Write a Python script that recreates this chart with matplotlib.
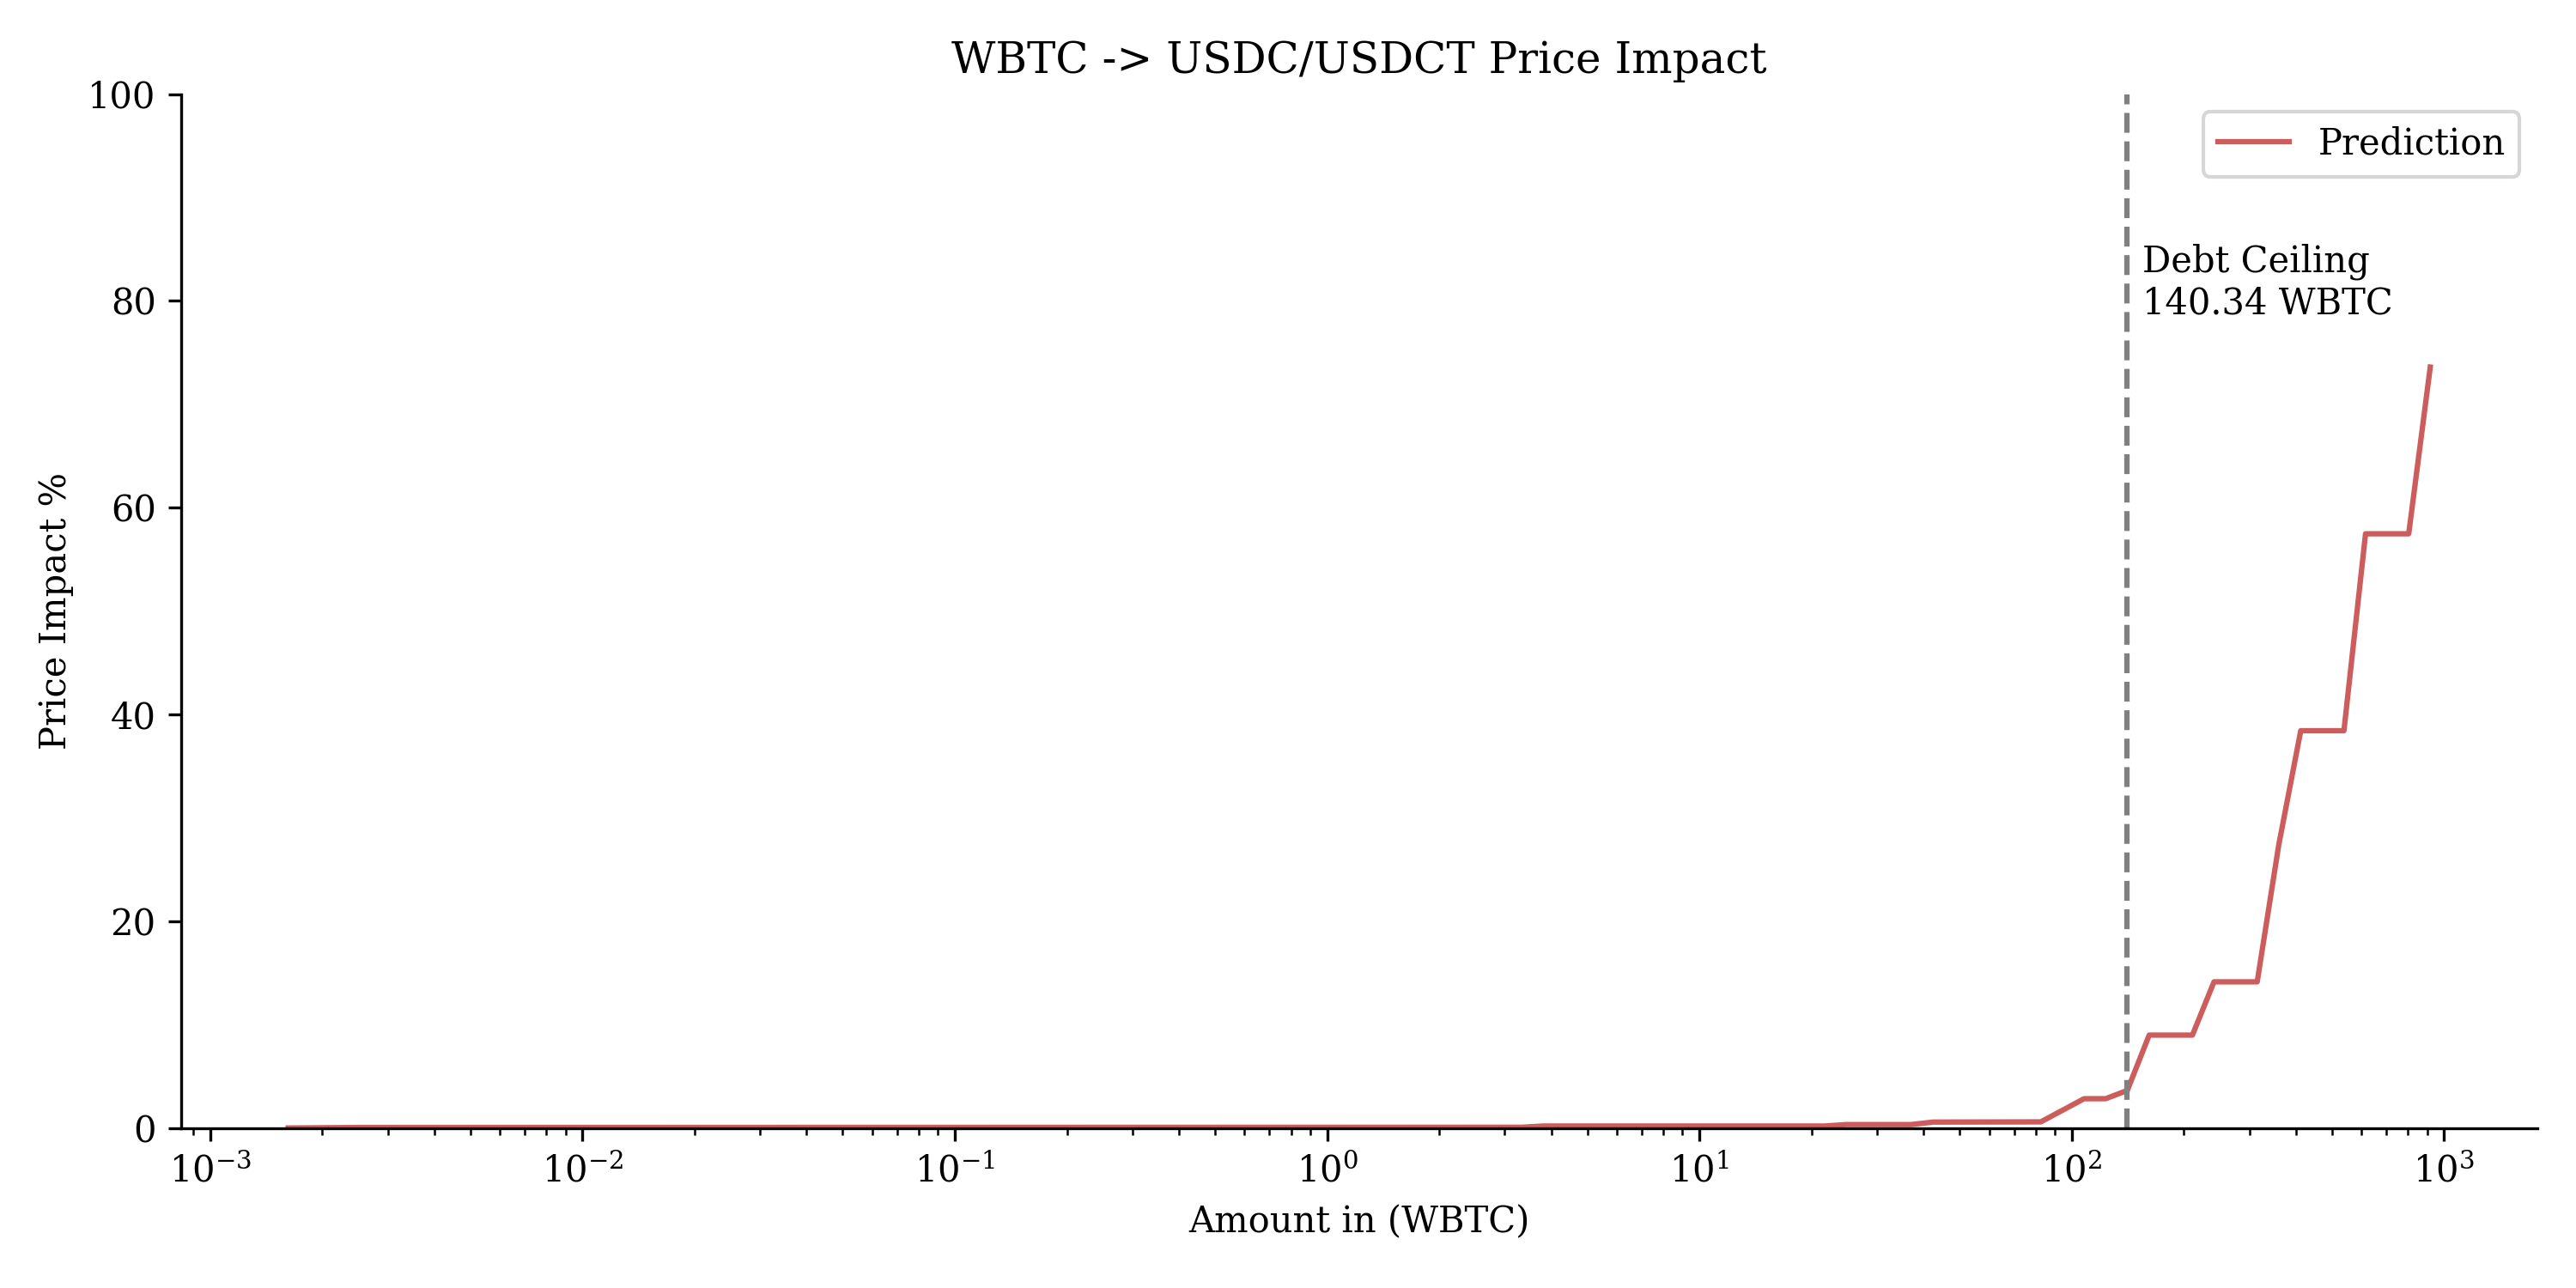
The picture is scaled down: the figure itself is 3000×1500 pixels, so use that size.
import matplotlib
matplotlib.use("Agg")
import matplotlib.pyplot as plt

# amount in (WBTC) at the bends of the prediction curve
amount_in = [0.00162, 0.0025, 3.33, 3.81, 21.7, 24.8, 37.0, 42.4, 82.6,
             107.9, 123.3, 141.0, 161.4, 210.9, 241.0, 314.8, 359.7,
             412.1, 538.3, 615.2, 803.5, 918.0]
price_impact = [0.03, 0.08, 0.1, 0.22, 0.22, 0.36, 0.36, 0.6, 0.62,
                2.86, 2.86, 3.66, 9.01, 9.01, 14.16, 14.16, 27.4,
                38.44, 38.44, 57.48, 57.48, 73.6]
DEBT_CEILING = 140.34
Y_TICKS = [0, 20, 40, 60, 80, 100]

plt.rcParams["font.family"] = ["DejaVu Serif"]
plt.rcParams["font.size"] = 10

fig, ax = plt.subplots(figsize=(10, 5), dpi=300)
fig.subplots_adjust(left=0.0703, right=0.985, bottom=0.124, top=0.927)

ax.plot(amount_in, price_impact, color="indianred", lw=1.5, label="Prediction")
ax.axvline(DEBT_CEILING, color="gray", ls="--", lw=1.5)
ax.text(DEBT_CEILING * 1.1, 78, f"Debt Ceiling\n{DEBT_CEILING:.2f} WBTC",
        fontsize=10, va="bottom", ha="left")

ax.set_xscale("log")
ax.set_ylim(0, 100)
ax.set_yticks(Y_TICKS)
ax.set_xlabel("Amount in (WBTC)")
ax.set_ylabel("Price Impact %")
ax.set_title("WBTC -> USDC/USDCT Price Impact", fontsize=12)
ax.legend(loc="upper right")
for s in ["top", "right"]:
    ax.spines[s].set_visible(False)

fig.savefig("out.png", dpi=300)
